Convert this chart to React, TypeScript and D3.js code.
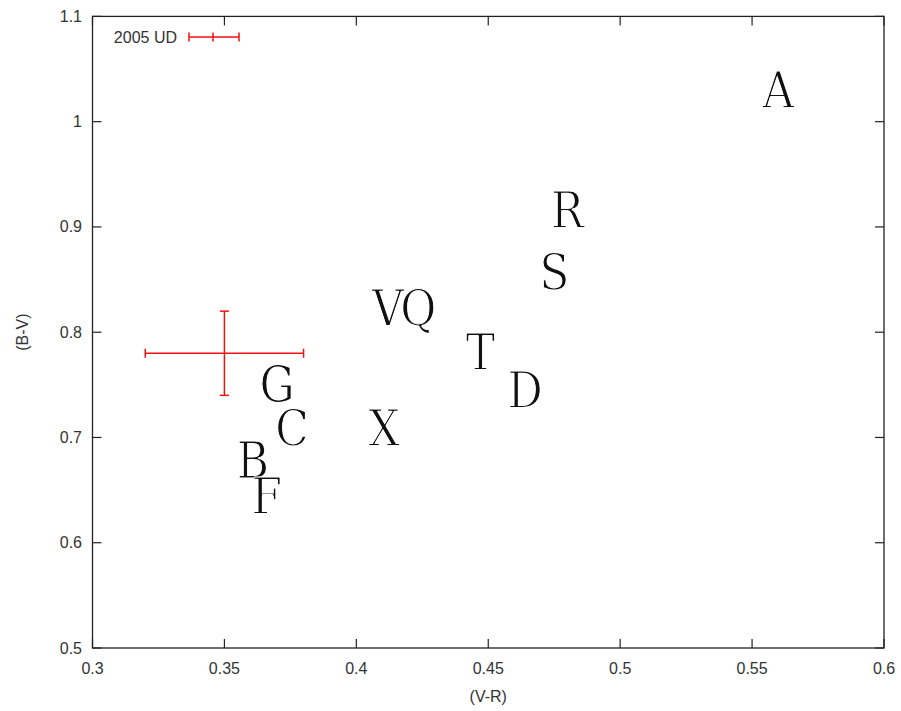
import React from "react";
import * as d3 from "d3";

// Colour indices of asteroid families, labelled by letter
const letters = ["A", "R", "S", "V", "Q", "T", "D", "G", "C", "X", "B", "F"];
const vr = [0.56, 0.48, 0.475, 0.412, 0.4235, 0.447, 0.464, 0.370, 0.3756, 0.4105, 0.3608, 0.366];
const bv = [1.03, 0.916, 0.857, 0.823, 0.823, 0.781, 0.745, 0.75, 0.709, 0.709, 0.678, 0.644];

// 2005 UD with its uncertainties
const udName = "2005 UD";
const udVR = 0.35;
const udBV = 0.78;
const udErrVR = 0.03;
const udErrBV = 0.04;

const xTicks = [0.3, 0.35, 0.4, 0.45, 0.5, 0.55, 0.6];
const yTicks = [0.5, 0.6, 0.7, 0.8, 0.9, 1, 1.1];

const W = 901;
const H = 711;
const M = { left: 92.5, right: 884, top: 16.4, bottom: 648 };

export default function App() {
  const x = d3.scaleLinear().domain([0.3, 0.6]).range([M.left, M.right]);
  const y = d3.scaleLinear().domain([0.5, 1.1]).range([M.bottom, M.top]);
  const tick = 9;
  const axisColor = "#222";
  const tickFont = "'Liberation Sans', Arial, sans-serif";
  const red = "#f01010";
  const cap = 4.5;

  const px = x(udVR);
  const py = y(udBV);

  const letterProps = {
    textAnchor: "middle" as const,
    dominantBaseline: "central" as const,
    fontFamily: "'DejaVu Serif', serif",
    fontSize: 50,
  };

  return (
    <svg width={W} height={H} style={{ position: "absolute", left: 0, top: 0, background: "#fff" }}>
      <defs>
        {/* each glyph clips its own white outline, so the strokes get thinner without touching neighbours */}
        {letters.map((l, i) => (
          <clipPath key={"c" + i} id={`glyph-${i}`}>
            <text {...letterProps}>{l}</text>
          </clipPath>
        ))}
      </defs>
      <rect x={0} y={0} width={W} height={H} fill="#fff" />
      {/* ticks, mirrored on all four sides */}
      {xTicks.map((t, i) => (
        <g key={"xt" + i}>
          <line x1={x(t)} x2={x(t)} y1={M.bottom} y2={M.bottom - tick} stroke={axisColor} strokeWidth={1.2} />
          <line x1={x(t)} x2={x(t)} y1={M.top} y2={M.top + tick} stroke={axisColor} strokeWidth={1.2} />
          <text x={x(t)} y={668} textAnchor="middle" dominantBaseline="central" fontFamily={tickFont} fontSize={16} fill="#333">
            {d3.format("")(t)}
          </text>
        </g>
      ))}
      {yTicks.map((t, i) => (
        <g key={"yt" + i}>
          <line x1={M.left} x2={M.left + tick} y1={y(t)} y2={y(t)} stroke={axisColor} strokeWidth={1.2} />
          <line x1={M.right} x2={M.right - tick} y1={y(t)} y2={y(t)} stroke={axisColor} strokeWidth={1.2} />
          <text x={82} y={y(t)} textAnchor="end" dominantBaseline="central" fontFamily={tickFont} fontSize={16} fill="#333">
            {d3.format("")(t)}
          </text>
        </g>
      ))}
      <rect x={M.left} y={M.top} width={M.right - M.left} height={M.bottom - M.top} fill="none" stroke={axisColor} strokeWidth={1.3} />

      {/* axis titles */}
      <text x={(M.left + M.right) / 2} y={696} textAnchor="middle" dominantBaseline="central" fontFamily={tickFont} fontSize={16} fill="#333">
        (V-R)
      </text>
      <text transform={`translate(22,${(M.top + M.bottom) / 2}) rotate(-90)`} textAnchor="middle" dominantBaseline="central" fontFamily={tickFont} fontSize={16} fill="#333">
        (B-V)
      </text>

      {/* family letters: thin, slightly condensed serif glyphs */}
      {letters.map((l, i) => (
        <g key={l} transform={`translate(${x(vr[i])},${y(bv[i])}) scale(0.88,1)`}>
          <text {...letterProps} fill="#111" stroke="#fff" strokeWidth={1.1} paintOrder="fill" clipPath={`url(#glyph-${i})`}>
            {l}
          </text>
        </g>
      ))}

      {/* 2005 UD with error bars */}
      <g stroke={red} strokeWidth={1.5}>
        <line x1={x(udVR - udErrVR)} x2={x(udVR + udErrVR)} y1={py} y2={py} />
        <line x1={x(udVR - udErrVR)} x2={x(udVR - udErrVR)} y1={py - cap} y2={py + cap} />
        <line x1={x(udVR + udErrVR)} x2={x(udVR + udErrVR)} y1={py - cap} y2={py + cap} />
        <line x1={px} x2={px} y1={y(udBV - udErrBV)} y2={y(udBV + udErrBV)} />
        <line x1={px - cap} x2={px + cap} y1={y(udBV - udErrBV)} y2={y(udBV - udErrBV)} />
        <line x1={px - cap} x2={px + cap} y1={y(udBV + udErrBV)} y2={y(udBV + udErrBV)} />
      </g>

      {/* key */}
      <text x={177} y={37} textAnchor="end" dominantBaseline="central" fontFamily={tickFont} fontSize={16} fill="#333">
        {udName}
      </text>
      <g stroke={red} strokeWidth={1.5}>
        <line x1={189} x2={239} y1={37} y2={37} />
        <line x1={189} x2={189} y1={37 - cap} y2={37 + cap} />
        <line x1={239} x2={239} y1={37 - cap} y2={37 + cap} />
        <line x1={213} x2={213} y1={37 - cap} y2={37 + cap} />
      </g>
    </svg>
  );
}
